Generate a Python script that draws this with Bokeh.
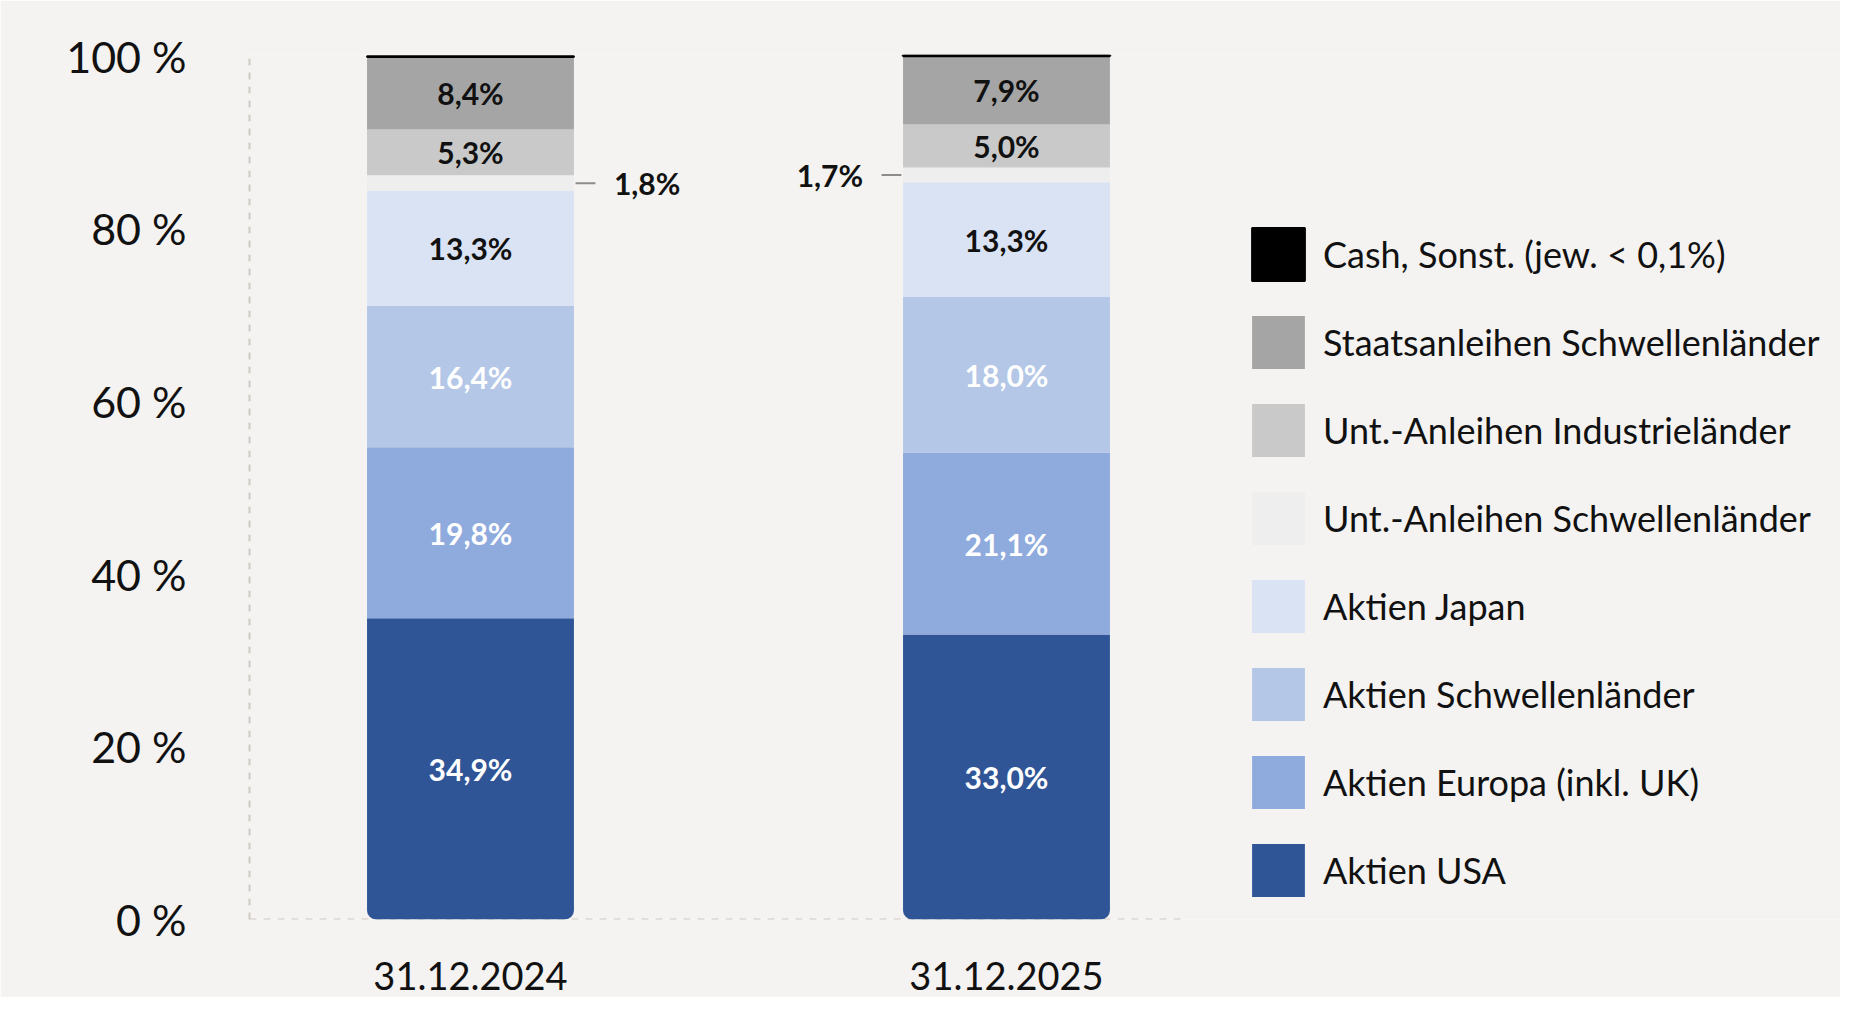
from bokeh.plotting import figure
from bokeh.models import ColumnDataSource, Legend, LegendItem, FixedTicker, Range1d
from bokeh.core.properties import value
from bokeh.embed import file_html
from bokeh.resources import INLINE

# ---------------- data ----------------
dates = ["31.12.2024", "31.12.2025"]
categories = [
    "Aktien USA",
    "Aktien Europa (inkl. UK)",
    "Aktien Schwellenländer",
    "Aktien Japan",
    "Unt.-Anleihen Schwellenländer",
    "Unt.-Anleihen Industrieländer",
    "Staatsanleihen Schwellenländer",
    "Cash, Sonst. (jew. < 0,1%)",
]
values_2024 = [34.9, 19.8, 16.4, 13.3, 1.8, 5.3, 8.4, 0.1]
values_2025 = [33.0, 21.1, 18.0, 13.3, 1.7, 5.0, 7.9, 0.1]
y_ticks = [0, 20, 40, 60, 80, 100]
y_tick_labels = ["0 %", "20 %", "40 %", "60 %", "80 %", "100 %"]

# ---------------- styling ----------------
colors = ["#2f5597", "#8faadc", "#b4c7e7", "#dae3f3", "#eeeeee", "#c9c9c9", "#a5a5a5", "#000000"]
label_colors = ["white", "white", "white", "#111111", "#111111", "#111111", "#111111", None]
outside_side = [1, -1]          # side of the small-segment callout per bar
small_idx = 4                   # segment labelled outside the bar
hidden_idx = 7                  # segment without label
BG = "#f4f3f1"
FONT = "Lato"
bar_width = 0.386
positions = [1, 2]
all_values = [values_2024, values_2025]


def fmt(v):
    return f"{v:.1f}".replace(".", ",") + "%"


p = figure(
    frame_width=1591, frame_height=865,
    x_range=Range1d(0.5877, 3.556), y_range=Range1d(0, 100.2),
    output_backend="svg", toolbar_location=None,
    min_border_left=249, min_border_right=0, min_border_top=54, min_border_bottom=78,
)
p.background_fill_color = BG
p.border_fill_color = BG
p.outline_line_color = None
p.grid.grid_line_color = None

# dashed baseline
p.segment(x0=[p.x_range.start], y0=[0], x1=[positions[-1] + 0.325], y1=[0],
          line_color="#cfcac4", line_width=2, line_dash="7 7")

# stacked bars
renderers = []
bottoms = [0.0 for _ in positions]
for i, cat in enumerate(categories):
    vals = [v[i] for v in all_values]
    tops = [b + v for b, v in zip(bottoms, vals)]
    src = ColumnDataSource(dict(x=positions, bottom=bottoms, top=tops))
    kw = {}
    if i == 0:
        kw["border_radius"] = (0, 0, 9, 9)
    r = p.vbar(x="x", bottom="bottom", top="top", width=bar_width, source=src,
               fill_color=colors[i],
               line_color="black" if i == hidden_idx else None,
               line_width=2 if i == hidden_idx else 1, **kw)
    renderers.append(r)

    # labels
    if i == hidden_idx:
        bottoms = tops
        continue
    mids = [(b + t) / 2 for b, t in zip(bottoms, tops)]
    texts = [fmt(v) for v in vals]
    if i == small_idx:
        for x, m, t, side in zip(positions, mids, texts, outside_side):
            edge = x + side * bar_width / 2
            p.segment(x0=[edge + side * 0.003], y0=[m], x1=[edge + side * 0.04], y1=[m],
                      line_color="#8c8c8c", line_width=2)
            p.text(x=[edge], y=[m], text=[t], x_offset=side * 40,
                   text_align="left" if side > 0 else "right", text_baseline="middle",
                   text_font=value(FONT), text_font_style="bold", text_font_size="30px",
                   text_color=label_colors[i])
    else:
        p.text(x=positions, y=mids, text=texts, text_align="center", text_baseline="middle",
               text_font=value(FONT), text_font_style="bold", text_font_size="30px",
               text_color=label_colors[i])
    bottoms = tops

# axes
p.yaxis.ticker = FixedTicker(ticks=y_ticks)
p.yaxis.major_label_overrides = {t: l for t, l in zip(y_ticks, y_tick_labels)}
p.yaxis.axis_line_color = "#cfcac4"
p.yaxis.axis_line_width = 2
p.yaxis.axis_line_dash = "7 7"
p.yaxis.major_tick_line_color = None
p.yaxis.minor_tick_line_color = None
p.yaxis.major_label_standoff = 57
p.yaxis.major_label_text_font = FONT
p.yaxis.major_label_text_font_size = "43px"
p.yaxis.major_label_text_color = "#111111"

p.xaxis.ticker = FixedTicker(ticks=positions)
p.xaxis.major_label_overrides = {x: d for x, d in zip(positions, dates)}
p.xaxis.axis_line_color = None
p.xaxis.major_tick_line_color = None
p.xaxis.minor_tick_line_color = None
p.xaxis.major_label_standoff = 36
p.xaxis.major_label_text_font = FONT
p.xaxis.major_label_text_font_size = "38px"
p.xaxis.major_label_text_color = "#111111"

# legend (top item = Cash)
items = [LegendItem(label=categories[i], renderers=[renderers[i]]) for i in reversed(range(len(categories)))]
legend = Legend(items=items, location=(996, 16), orientation="vertical",
                glyph_width=66, glyph_height=66, spacing=22, label_standoff=12,
                label_height=66, padding=0, margin=0,
                label_text_font=FONT, label_text_font_size="36px", label_text_color="#111111",
                background_fill_alpha=0, border_line_color=None)
p.add_layout(legend, "center")

open("out.html", "w").write(file_html(p, INLINE))
